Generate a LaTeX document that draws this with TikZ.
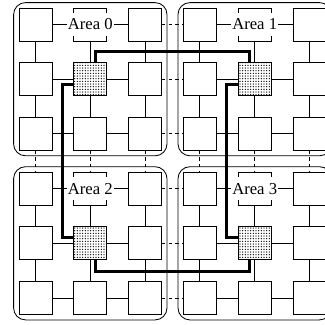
\documentclass[tikz,border=0pt]{standalone}
\usepackage{fontspec}
\setmainfont{Liberation Serif}
\usetikzlibrary{fit,patterns.meta}

\begin{document}
\begin{tikzpicture}[x=0.6pt, y=-0.6pt, line width=0.5pt,
  main/.style = {draw, rectangle, fill=white, minimum size=19.8pt, inner sep=0pt},
  core/.style = {main, pattern={Dots[distance=1.6pt, radius=0.4pt]}},
  area/.style = {draw, rounded corners=7.2pt, inner sep=3pt},
  tag/.style = {fill=white, inner xsep=0.5pt, inner ysep=3.5pt},
  bridge/.style = {dash pattern=on 2pt off 2pt},
  route/.style = {line width=1.8pt}]
\useasboundingbox (0,0) rectangle (325,324);
% routers
\foreach \c in {0,...,5}
  \foreach \r in {0,...,5} {
    \pgfmathtruncatemacro\hot{mod(\c,3)==1 && mod(\r,3)==1}
    \edef\kind{\ifnum\hot=1 core\else main\fi}
    \node[\kind] (b\c\r) at ({35.5+54.8*\c}, {24.5+54.7*\r}) {};
  }
% areas
\node[area, fit=(b00)(b22)] (a0) {};
\node[area, fit=(b30)(b52)] (a1) {};
\node[area, fit=(b03)(b25)] (a2) {};
\node[area, fit=(b33)(b55)] (a3) {};
% mesh links
\foreach \r in {0,...,5} {
  \foreach \c/\d in {0/1,1/2,3/4,4/5} {
    \draw (b\c\r) -- (b\d\r);
    \draw (b\r\c) -- (b\r\d);
  }
  \draw[bridge] (b2\r) -- (b3\r);
  \draw[bridge] (b\r2) -- (b\r3);
}
% ring between the cores
\draw[route] ([xshift=3.3pt]b11.north) -- ++(0pt,6.6pt) -| ([xshift=-3.3pt]b41.north);
\draw[route] ([yshift=-3.3pt]b41.west) -- ++(-6.6pt,0pt) |- ([yshift=3.3pt]b44.west);
\draw[route] ([xshift=-3.3pt]b44.south) -- ++(0pt,-6.6pt) -| ([xshift=3.3pt]b14.south);
\draw[route] ([yshift=3.3pt]b14.west) -- ++(-6.6pt,0pt) |- ([yshift=-3.3pt]b11.west);
% area names
\node[tag] (t0) at (b10) {Area 0};
\node[tag] (t1) at (b40) {Area 1};
\node[tag] (t2) at (b13) {Area 2};
\node[tag] (t3) at (b43) {Area 3};
\end{tikzpicture}
\end{document}
